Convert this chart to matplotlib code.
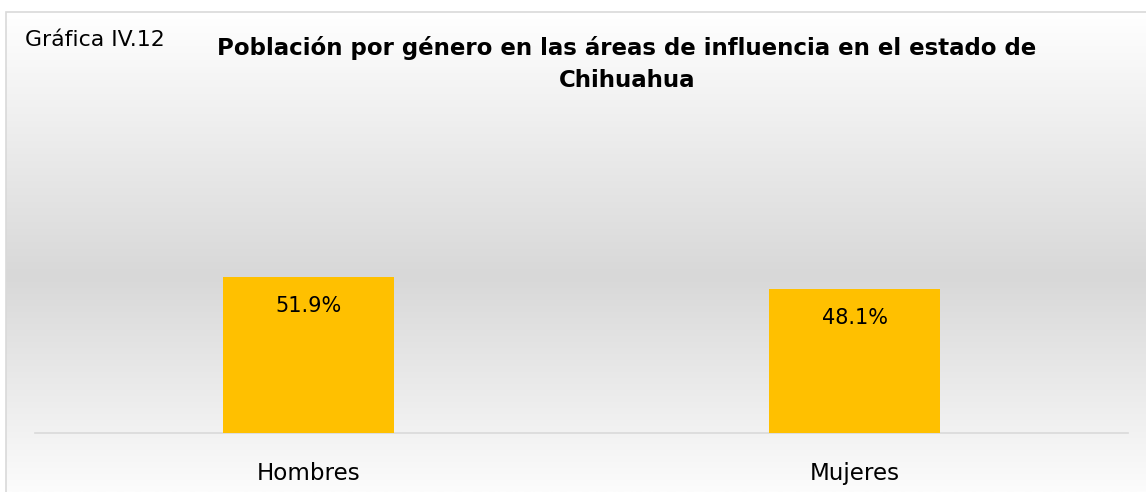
import numpy as np
import matplotlib
matplotlib.use('Agg')
import matplotlib.pyplot as plt
from matplotlib.patches import Rectangle

categorias = ['Hombres', 'Mujeres']
porcentajes = [51.9, 48.1]
etiquetas = ['51.9%', '48.1%']

W, H = 1146, 492
fig = plt.figure(figsize=(W / 100, H / 100), dpi=100)
fig.patch.set_facecolor('white')

# fondo degradado blanco -> gris -> blanco
bg = fig.add_axes([6 / W, 0, 1 - 6 / W, (H - 12) / H], zorder=0)
n = 480
t = np.linspace(0, 1, n)
top = np.array([255, 255, 255])
mid = np.array([216, 216, 216])
bot = np.array([252, 252, 252])
col = np.zeros((n, 3))
for i, v in enumerate(t):
    if v < 0.55:
        f = v / 0.55
        col[i] = top + (mid - top) * f
    else:
        f = (v - 0.55) / 0.45
        col[i] = mid + (bot - mid) * f
img = np.repeat(col[:, None, :], 2, axis=1) / 255
bg.imshow(img, aspect='auto', extent=[0, 1, 0, 1], interpolation='bilinear')
bg.set_axis_off()

fig.patches.append(Rectangle((6 / W, -0.01), 1.0, (H - 12) / H + 0.01, transform=fig.transFigure,
                             fill=False, edgecolor='#D9D9D9', linewidth=1.2, zorder=1))

ax = fig.add_axes([35 / W, (H - 433) / H, 1093 / W, 300 / H], zorder=2)
ax.patch.set_alpha(0)
x = np.arange(len(categorias))
bars = ax.bar(x, porcentajes, width=0.313, color='#FFC000', zorder=3)
ax.set_xlim(-0.5, 1.5)
ax.set_ylim(0, 100)
for b, lab in zip(bars, etiquetas):
    ax.text(b.get_x() + b.get_width() / 2, b.get_height() - 9.7, lab,
            ha='center', va='center', fontsize=15, color='black', zorder=4)
for s in ['top', 'right', 'left']:
    ax.spines[s].set_visible(False)
ax.spines['bottom'].set_color('#D9D9D9')
ax.spines['bottom'].set_linewidth(1.2)
ax.set_yticks([])
ax.set_xticks(x)
ax.set_xticklabels(categorias, fontsize=16.6)
ax.tick_params(axis='x', length=0, pad=21)

fig.text(25 / W, 1 - 40 / H, 'Gráfica IV.12', fontsize=15.8, ha='left', va='center')
fig.text(627 / W, 1 - 64 / H, 'Población por género en las áreas de influencia en el estado de\nChihuahua',
         fontsize=16.5, fontweight='bold', ha='center', va='center', linespacing=1.55)

fig.savefig('out.png', dpi=100)
